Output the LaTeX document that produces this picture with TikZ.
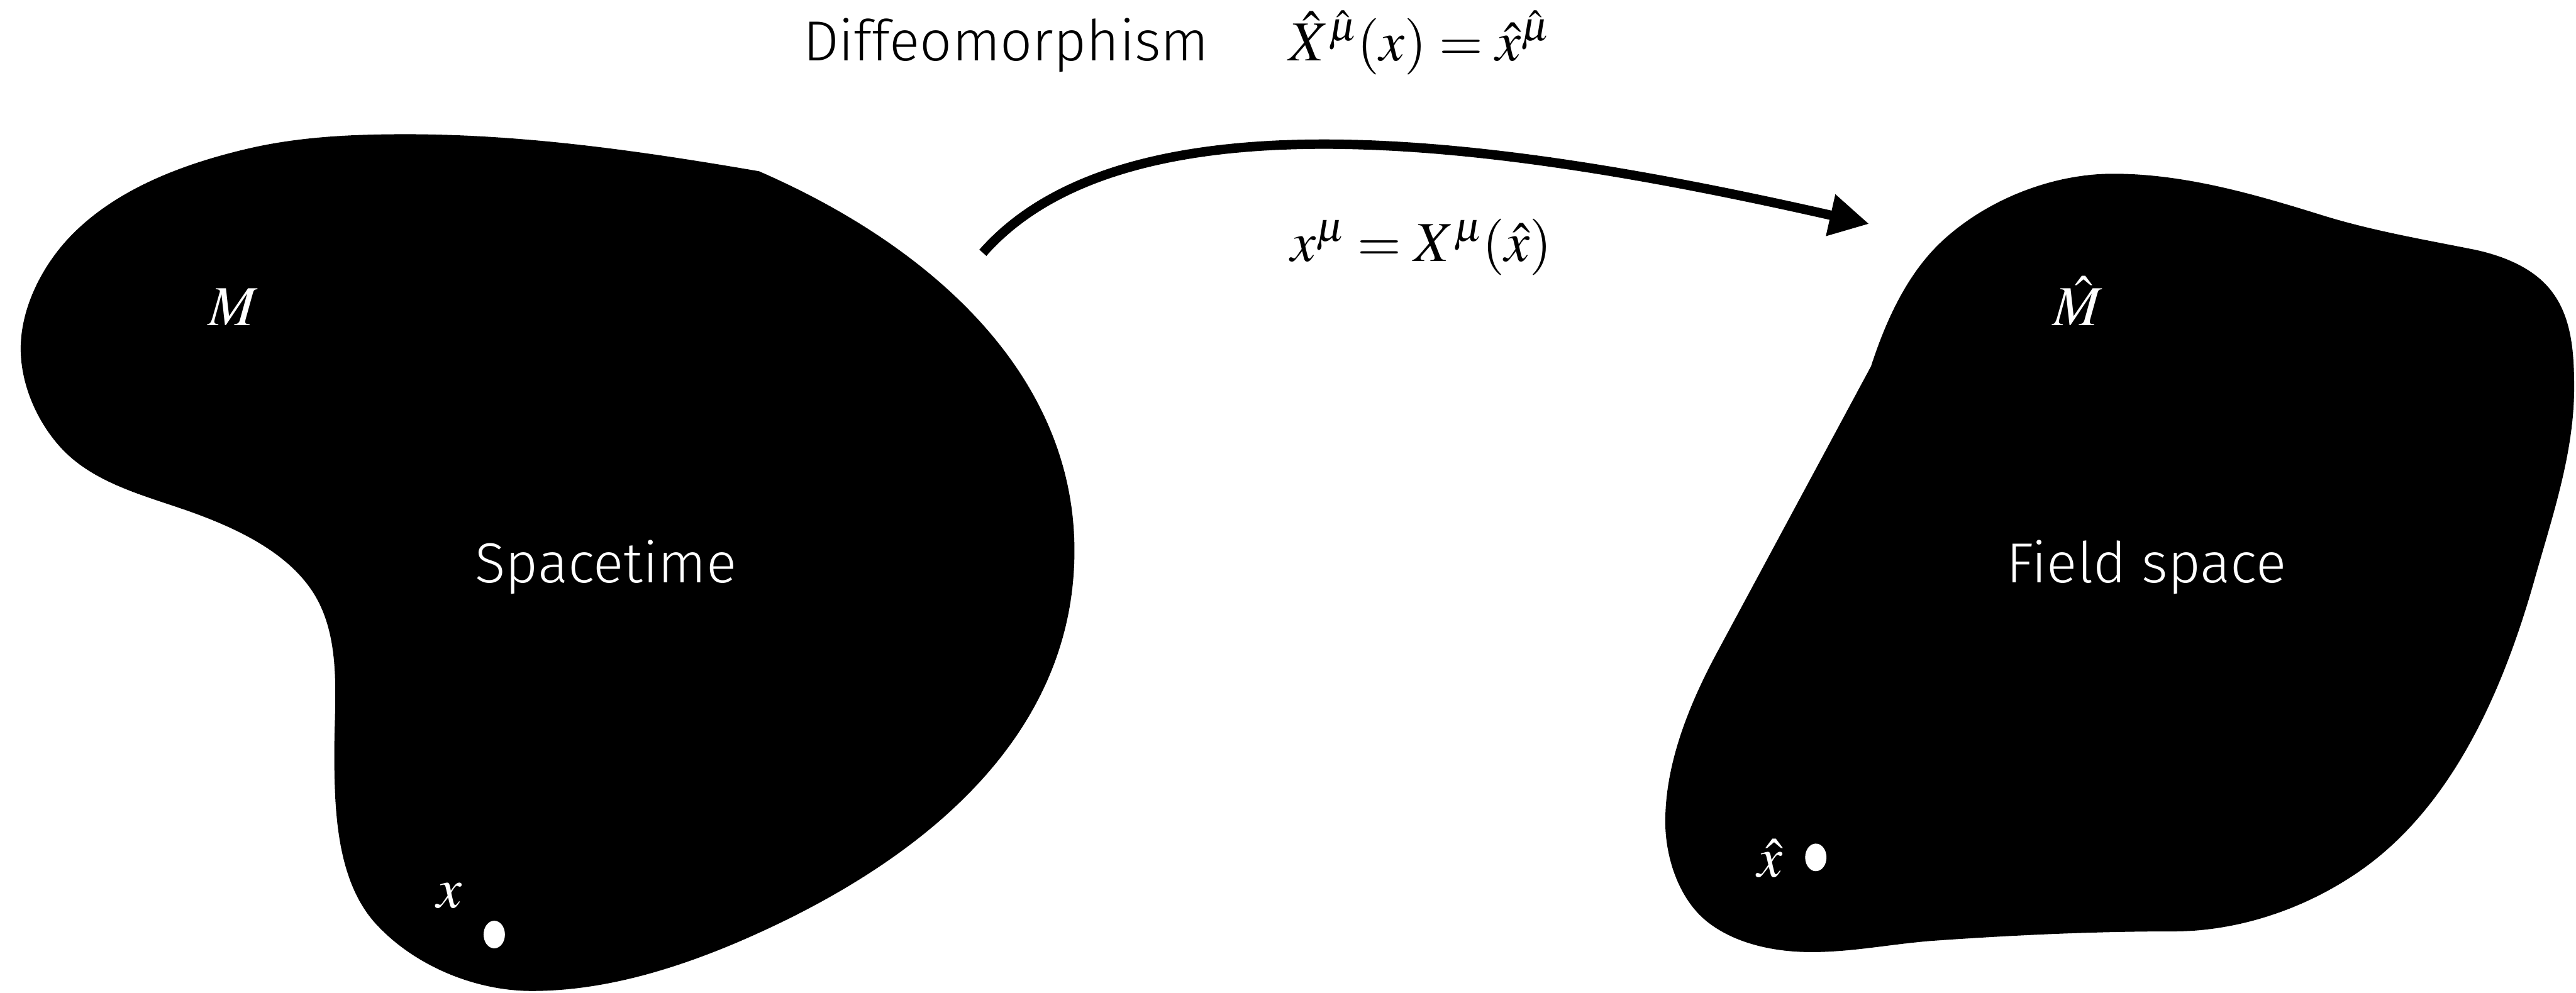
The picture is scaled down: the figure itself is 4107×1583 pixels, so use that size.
\documentclass[tikz,border=0pt]{standalone}
\usepackage{mathptmx}
\usepackage[no-math]{fontspec}
\setmainfont{Fira Sans Light}
\usetikzlibrary{arrows.meta}
\tikzset{
  blob/.style={fill=black, draw=none},
  lbl/.style={inner sep=0pt, anchor=base, font=\fontsize{90}{108}\selectfont},
  wlbl/.style={lbl, text=white},
  pt/.style={fill=white, draw=none},
  maparrow/.style={line width=15pt, -{Triangle[length=63pt,width=64pt]}}
}
\begin{document}
\begin{tikzpicture}[x=1pt,y=-1pt]
\useasboundingbox (0,0) rectangle (4107,1583);
% Spacetime blob
\fill[blob] (1210,273)
  .. controls (1486,393) and (1713,598) .. (1713,878)
  .. controls (1713,1178) and (1466,1379) .. (1172,1504)
  .. controls (1070,1547) and (959,1580) .. (848,1580)
  .. controls (759,1580) and (664,1541) .. (603,1477)
  .. controls (537,1409) and (533,1295) .. (533,1200)
  .. controls (533,1120) and (544,1031) .. (508,960)
  .. controls (470,885) and (380,843) .. (301,815)
  .. controls (230,790) and (152,771) .. (100,717)
  .. controls (60,675) and (33,614) .. (33,556)
  .. controls (33,491) and (67,424) .. (112,377)
  .. controls (184,302) and (290,262) .. (391,238)
  .. controls (474,218) and (561,214) .. (647,214)
  .. controls (836,214) and (1024,241) .. (1210,273)
  -- cycle;
% Field space blob
\fill[blob] (2983,584)
  .. controls (3007,510) and (3042,433) .. (3100,381)
  .. controls (3171,317) and (3273,277) .. (3369,277)
  .. controls (3483,277) and (3596,310) .. (3705,344)
  .. controls (3783,368) and (3865,382) .. (3945,398)
  .. controls (3992,408) and (4042,428) .. (4070,467)
  .. controls (4101,509) and (4104,566) .. (4104,618)
  .. controls (4104,721) and (4070,821) .. (4042,920)
  .. controls (3983,1131) and (3894,1302) .. (3753,1395)
  .. controls (3669,1451) and (3566,1485) .. (3465,1485)
  .. controls (3337,1485) and (3209,1491) .. (3081,1500)
  .. controls (3016,1505) and (2953,1518) .. (2888,1518)
  .. controls (2832,1518) and (2770,1506) .. (2725,1472)
  .. controls (2678,1437) and (2655,1369) .. (2655,1310)
  .. controls (2655,1218) and (2692,1126) .. (2735,1045)
  -- cycle;
% labels
\node[lbl] (diffeo) at (1604,97) {Diffeomorphism};
\node[lbl] (fwd) at (2263,97) {$\hat{X}^{\hat{\mu}}(x) = \hat{x}^{\hat{\mu}}$};
\node[lbl] (bwd) at (2266,417) {$x^{\mu} = X^{\mu}(\hat{x})$};
\node[wlbl] (st) at (966,929) {Spacetime};
\node[wlbl] (fs) at (3422,929) {Field space};
\node[wlbl] (M) at (372,519) {$M$};
\node[wlbl] (Mh) at (3313,519) {$\hat{M}$};
\node[wlbl] (xl) at (716,1447) {$x$};
\node[wlbl] (xhl) at (2822,1398) {$\hat{x}$};
% points
\fill[pt] (788,1490) ellipse [x radius=17, y radius=22];
\fill[pt] (2895,1367) ellipse [x radius=17, y radius=22];
% arrow
\coordinate (a0) at (1567,403);
\coordinate (a1) at (2980,357);
\draw[maparrow] (a0) .. controls (1806,132) and (2432,233) .. (a1);
\end{tikzpicture}
\end{document}
